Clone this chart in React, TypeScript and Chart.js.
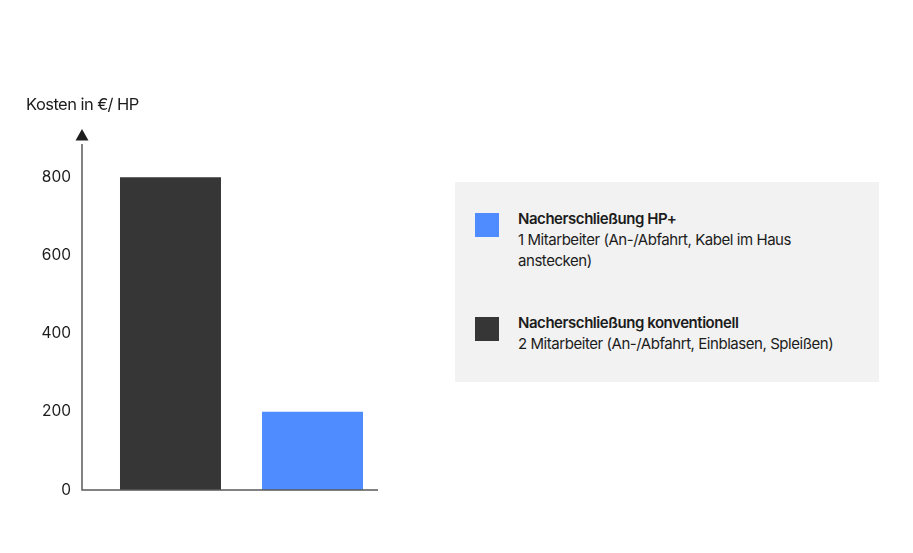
import React, { useEffect, useRef } from "react";
import { Chart, registerables } from "chart.js";

Chart.register(...registerables);

// ---- data ----
const categories = ["Nacherschließung konventionell", "Nacherschließung HP+"];
const costValues = [800, 200];
const barColors = ["#363636", "#4f8cff"];
const tickValues = [0, 200, 400, 600, 800];
const axisTitle = "Kosten in €/ HP";
const legendTitles = ["Nacherschließung HP+", "Nacherschließung konventionell"];
const legendDescriptions = [
  "1 Mitarbeiter (An-/Abfahrt, Kabel im Haus\nanstecken)",
  "2 Mitarbeiter (An-/Abfahrt, Einblasen, Spleißen)",
];
const legendColors = ["#4f8cff", "#363636"];

const FONT = "Inter, 'Noto Sans', sans-serif";
const TEXT = "#1c1c1c";

const axisPlugin = {
  id: "arrowAxes",
  afterDatasetsDraw(chart: any) {
    const { ctx, chartArea } = chart;
    const y0 = chart.scales.y.getPixelForValue(0);
    ctx.save();
    ctx.strokeStyle = "#5a5a5a";
    ctx.lineWidth = 1.5;
    ctx.beginPath();
    ctx.moveTo(chartArea.left, chartArea.top + 4);
    ctx.lineTo(chartArea.left, y0);
    ctx.lineTo(chartArea.right, y0);
    ctx.stroke();
    ctx.fillStyle = "#1e1e1e";
    ctx.beginPath();
    ctx.moveTo(chartArea.left, chartArea.top - 11);
    ctx.lineTo(chartArea.left - 6.5, chartArea.top + 0.5);
    ctx.lineTo(chartArea.left + 6.5, chartArea.top + 0.5);
    ctx.closePath();
    ctx.fill();
    ctx.restore();
  },
};

export default function App() {
  const canvasRef = useRef<HTMLCanvasElement | null>(null);

  useEffect(() => {
    const canvas = canvasRef.current;
    if (!canvas) return;
    const chart = new Chart(canvas, {
      type: "bar",
      data: {
        labels: categories,
        datasets: [
          {
            label: "Kosten",
            data: costValues.map((v, i) => ({ x: i, y: v })),
            backgroundColor: barColors,
            borderWidth: 0,
            barPercentage: 0.711,
            categoryPercentage: 1,
          },
        ],
      },
      options: {
        responsive: false,
        animation: false,
        maintainAspectRatio: false,
        layout: { padding: { left: 0, right: 535, top: 140, bottom: 63 } },
        plugins: { legend: { display: false }, tooltip: { enabled: false } },
        scales: {
          x: {
            type: "linear",
            display: false,
            offset: false,
            min: -0.623,
            max: 1.461,
            afterBuildTicks: (scale: any) => {
              scale.ticks = categories.map((_, i) => ({ value: i }));
            },
          },
          y: {
            type: "linear",
            min: 0,
            max: 895,
            border: { display: false },
            grid: { display: false, drawTicks: false },
            afterBuildTicks: (scale: any) => {
              scale.ticks = tickValues.map((v) => ({ value: v }));
            },
            afterFit: (scale: any) => {
              scale.width = 82;
            },
            ticks: {
              padding: 11,
              color: TEXT,
              font: { family: FONT, size: 15.5 },
            },
          },
        },
      },
      plugins: [axisPlugin],
    } as any);
    return () => chart.destroy();
  }, []);

  return (
    <div
      style={{
        position: "fixed",
        left: 0,
        top: 0,
        width: 913,
        height: 553,
        background: "#fff",
        fontFamily: FONT,
        color: TEXT,
      }}
    >
      <canvas ref={canvasRef} width={913} height={553} style={{ position: "absolute", left: 0, top: 0 }} />
      <div
        style={{
          position: "absolute",
          left: 26,
          top: 94,
          fontSize: 16.5,
          letterSpacing: "-0.55px",
          lineHeight: "20px",
        }}
      >
        {axisTitle}
      </div>
      <div
        style={{
          position: "absolute",
          left: 455,
          top: 182,
          width: 424,
          height: 200,
          background: "#f2f2f2",
          boxSizing: "border-box",
          padding: "26px 0 0 20px",
          display: "flex",
          flexDirection: "column",
          gap: 41,
        }}
      >
        {legendTitles.map((t, i) => (
          <div key={t} style={{ display: "flex", alignItems: "flex-start" }}>
            <div
              style={{
                width: 24,
                height: 24,
                marginTop: 5,
                background: legendColors[i],
                flex: "none",
              }}
            />
            <div
              style={{
                marginLeft: 19,
                fontSize: 15,
                letterSpacing: "-0.45px",
                lineHeight: "21px",
                whiteSpace: "pre-line",
              }}
            >
              <div style={{ fontWeight: 600 }}>{t}</div>
              <div>{legendDescriptions[i]}</div>
            </div>
          </div>
        ))}
      </div>
    </div>
  );
}
